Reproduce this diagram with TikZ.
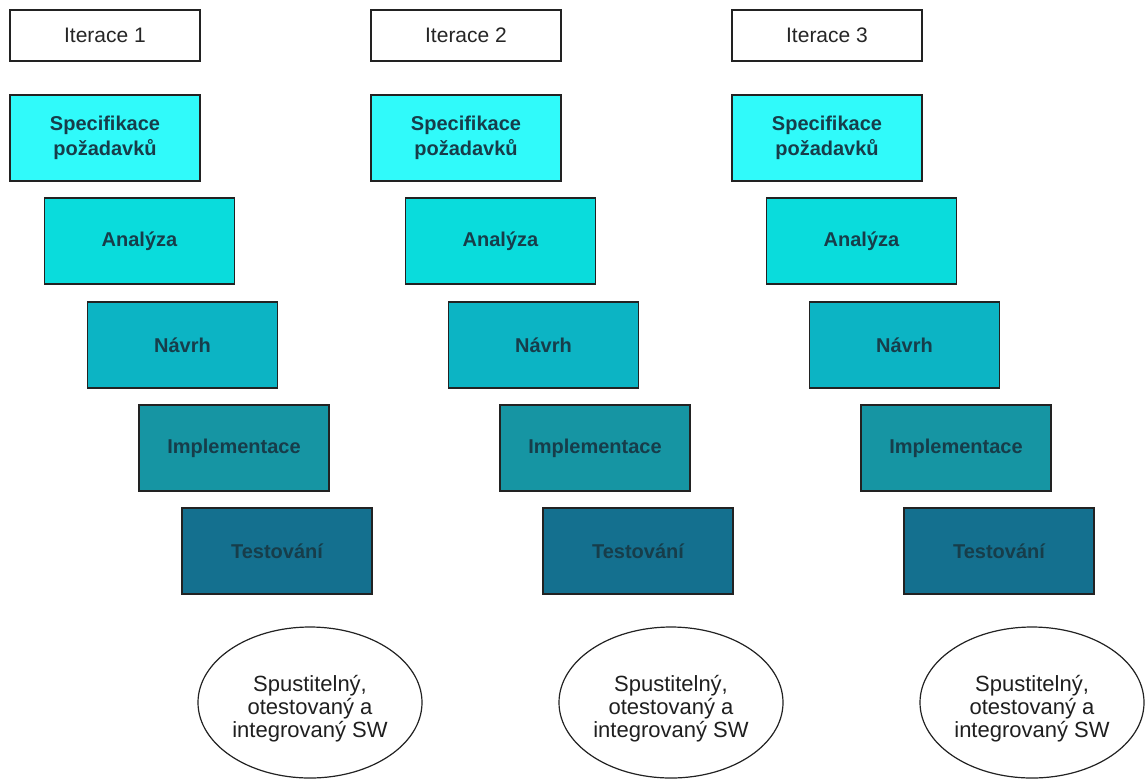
\documentclass[tikz,border=0pt]{standalone}
\usepackage{fontspec}
\setmainfont{Liberation Sans}
\usetikzlibrary{shapes.geometric}
\definecolor{cSpec}{HTML}{30FAFA}
\definecolor{cAnal}{HTML}{0ADCDC}
\definecolor{cNavrh}{HTML}{0CB4C4}
\definecolor{cImpl}{HTML}{1695A3}
\definecolor{cTest}{HTML}{14708F}
\definecolor{cLabel}{HTML}{173D4A}
\definecolor{cEdge}{HTML}{222222}
% result text, set a little below the centre of its ellipse
\newcommand{\swtext}{\raisebox{-7pt}[\height][\depth]{\begin{tabular}{@{}c@{}}Spustitelný,\\otestovaný a\\integrovaný SW\end{tabular}}}
\tikzset{
  phase/.style={draw=cEdge, line width=1.3pt, minimum width=190pt, minimum height=86pt,
    inner sep=0pt, align=center, text=cLabel,
    font=\fontsize{20}{25}\selectfont\bfseries},
  iterbox/.style={draw=cEdge, line width=1.3pt, fill=white, minimum width=190pt,
    minimum height=51pt, inner sep=0pt, text=black!85,
    font=\fontsize{21}{25}\selectfont},
  result/.style={ellipse, draw=cEdge, line width=1.2pt, fill=white, minimum width=224pt,
    minimum height=151pt, inner sep=0pt, text=black!88,
    font=\fontsize{22}{22.5}\selectfont}
}
\begin{document}
\begin{tikzpicture}[x=1pt,y=-1pt]
  \useasboundingbox (0,0) rectangle (1145,780);
  \foreach \i in {1,2,3}{
    \pgfmathsetmacro{\dx}{361*(\i-1)}
    \node[iterbox] (it\i) at (105+\dx,35.5) {Iterace \i};
    \node[phase, fill=cSpec] (spec\i) at (105+\dx,138) {Specifikace\\požadavků};
    \node[phase, fill=cAnal] (anal\i) at (139.5+\dx,241) {Analýza};
    \node[phase, fill=cNavrh] (navrh\i) at (182.5+\dx,345) {Návrh};
    \node[phase, fill=cImpl] (impl\i) at (234+\dx,448) {Implementace};
    \node[phase, fill=cTest] (test\i) at (277+\dx,551) {Testování};
    \node[result] (sw\i) at (310+\dx,702.5) {\swtext};
  }
\end{tikzpicture}
\end{document}
